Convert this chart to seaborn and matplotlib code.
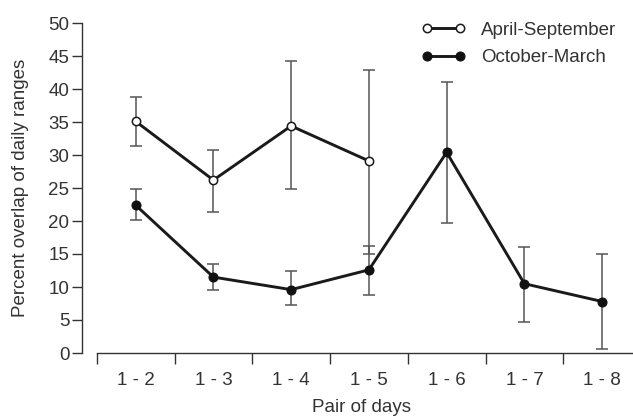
import numpy as np
import pandas as pd
import matplotlib
matplotlib.use('Agg')
import matplotlib.pyplot as plt
import seaborn as sns

# data
pairs = ['1 - 2', '1 - 3', '1 - 4', '1 - 5', '1 - 6', '1 - 7', '1 - 8']

apr_pairs = ['1 - 2', '1 - 3', '1 - 4', '1 - 5']
apr_mean = [35.1, 26.2, 34.4, 29.1]
apr_low = [31.3, 21.4, 24.9, 15.0]
apr_high = [38.8, 30.7, 44.3, 42.9]

oct_mean = [22.4, 11.5, 9.6, 12.6, 30.4, 10.5, 7.8]
oct_low = [20.1, 9.5, 7.3, 8.8, 19.7, 4.7, 0.6]
oct_high = [24.9, 13.5, 12.4, 16.2, 41.1, 16.0, 15.0]

df_apr = pd.DataFrame({'pair': apr_pairs, 'mean': apr_mean, 'low': apr_low, 'high': apr_high})
df_oct = pd.DataFrame({'pair': pairs, 'mean': oct_mean, 'low': oct_low, 'high': oct_high})

sns.set_style('ticks')
plt.rcParams['font.family'] = ['Liberation Sans', 'DejaVu Sans']
dark = '#333333'

fig = plt.figure(figsize=(6.33, 4.17), dpi=100)
ax = fig.add_axes([82 / 633, 64 / 417, (641 - 82) / 633, (353 - 23) / 417])

# error bars (drawn first, behind the lines)
for d in [df_apr, df_oct]:
    x = np.arange(len(d))
    yerr = [d['mean'] - d['low'], d['high'] - d['mean']]
    ax.errorbar(x, d['mean'], yerr=yerr, fmt='none', ecolor='#555555',
                elinewidth=1.1, capsize=4.5, capthick=1.1, zorder=1)

df_apr['x'] = np.arange(len(df_apr))
df_oct['x'] = np.arange(len(df_oct))

sns.lineplot(data=df_apr, x='x', y='mean', ax=ax, color='#1a1a1a', linewidth=2.1,
             marker='o', markersize=6, markerfacecolor='white',
             markeredgecolor='#1a1a1a', markeredgewidth=1.1,
             label='April-September', sort=False, zorder=3)
sns.lineplot(data=df_oct, x='x', y='mean', ax=ax, color='#1a1a1a', linewidth=2.1,
             marker='o', markersize=6.5, markerfacecolor='#111111',
             markeredgecolor='#111111', label='October-March', sort=False, zorder=3)

ax.set_xlim(-0.69, 6.5)
ax.set_ylim(0, 50)
ax.set_yticks(range(0, 51, 5))
ax.set_xticks(range(len(pairs)))
ax.set_xticklabels(pairs)
ax.set_xticks(np.arange(-0.5, len(pairs)), minor=True)
ax.tick_params(axis='x', which='major', length=0, pad=14, labelsize=13.5, colors=dark)
ax.tick_params(axis='x', which='minor', length=8, width=1, color=dark, direction='out')
ax.tick_params(axis='y', length=7, width=1, labelsize=13.5, colors=dark, pad=2)

sns.despine(ax=ax)
ax.spines['bottom'].set_bounds(-0.5, 6.5)
ax.spines['left'].set_bounds(0, 50)
for s in ['left', 'bottom']:
    ax.spines[s].set_color(dark)
    ax.spines[s].set_linewidth(1)

ax.set_xlabel('Pair of days', fontsize=13.5, color=dark)
ax.set_ylabel('Percent overlap of daily ranges', fontsize=13.5, color=dark)
ax.xaxis.set_label_coords(0.5, -0.138)
ax.yaxis.set_label_coords(-0.094, 0.5)

handles, labels = ax.get_legend_handles_labels()
ax.get_legend().remove()
fig.legend(handles, labels, loc='upper left', bbox_to_anchor=(404 / 633, 1 - 5 / 417),
           frameon=False, fontsize=13.5, handlelength=2.4, numpoints=2,
           labelspacing=0.55, handletextpad=0.8, labelcolor=dark)

fig.savefig('out.png', dpi=100)
